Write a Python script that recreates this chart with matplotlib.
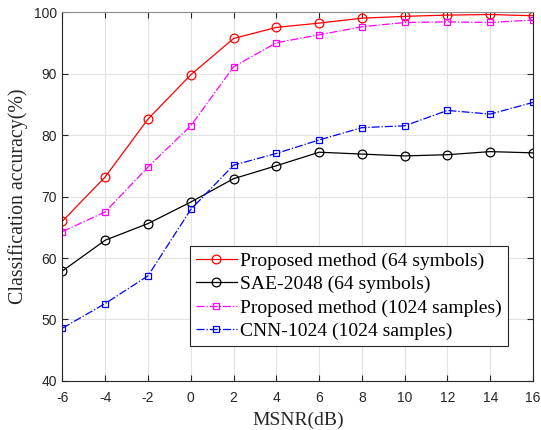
import matplotlib
matplotlib.use("Agg")
import matplotlib.pyplot as plt

plt.rcParams['axes.unicode_minus'] = False

msnr = [-6, -4, -2, 0, 2, 4, 6, 8, 10, 12, 14, 16]
proposed_64 = [66.0, 73.2, 82.6, 89.8, 95.7, 97.5, 98.2, 99.0, 99.3, 99.5, 99.6, 99.4]
sae_2048 = [57.9, 62.9, 65.6, 69.1, 72.9, 75.0, 77.2, 76.9, 76.6, 76.8, 77.3, 77.1]
proposed_1024 = [64.3, 67.5, 74.8, 81.5, 91.1, 95.0, 96.3, 97.6, 98.3, 98.4, 98.3, 98.7]
cnn_1024 = [48.6, 52.6, 57.1, 67.9, 75.1, 77.0, 79.2, 81.2, 81.5, 84.0, 83.4, 85.3]

fig = plt.figure(figsize=(5.41, 4.30), dpi=100)
ax = fig.add_axes([0.1155, 0.114, 0.8697, 0.858])

circ = dict(marker='o', markersize=6.3, markerfacecolor='none', markeredgewidth=0.9)
sq = dict(marker='s', markersize=5, markerfacecolor='none', markeredgewidth=0.9)
ax.plot(msnr, proposed_64, '-', color='#ff0000', lw=0.9,
        label='Proposed method (64 symbols)', **circ)
ax.plot(msnr, sae_2048, '-', color='#000000', lw=0.9,
        label='SAE-2048 (64 symbols)', **circ)
ax.plot(msnr, proposed_1024, '-.', color='#ff00ff', lw=0.9,
        label='Proposed method (1024 samples)', **sq)
ax.plot(msnr, cnn_1024, '-.', color='#0000ff', lw=0.9,
        label='CNN-1024 (1024 samples)', **sq)

ax.set_xlim(-6, 16)
ax.set_ylim(40, 100)
ax.set_xticks(range(-6, 17, 2))
ax.set_yticks(range(40, 101, 10))
ax.grid(True, color='#e3e3e3', lw=0.8)
ax.tick_params(direction='in', top=True, right=True, length=4,
               labelsize=10, colors='#262626')
ax.tick_params(axis='x', pad=7)
ax.tick_params(axis='y', pad=4)
for lab in ax.get_xticklabels() + ax.get_yticklabels():
    lab.set_family('Liberation Sans')
for s in ax.spines.values():
    s.set_color('#262626')
    s.set_linewidth(0.8)
ax.spines['top'].set_color('#8c8c8c')

ax.set_xlabel('MSNR(dB)', family='Liberation Serif', fontsize=14, color='#262626')
ax.set_ylabel('Classification accuracy(%)', family='Liberation Serif', fontsize=14.3,
              color='#262626')
ax.xaxis.set_label_coords(0.5, -0.106)
ax.yaxis.set_label_coords(-0.0955, 0.5)
ax.xaxis.label.set_va('center')
ax.yaxis.label.set_va('center')

leg = ax.legend(loc='lower right', prop={'family': 'Liberation Serif', 'size': 14},
                fancybox=False, edgecolor='#262626', framealpha=1,
                handlelength=2.1, handletextpad=0.2, borderpad=0.3,
                labelspacing=0.3, borderaxespad=0,
                bbox_to_anchor=(0.947, 0.095))
leg.get_frame().set_linewidth(0.8)

fig.savefig('out.png', dpi=100)
